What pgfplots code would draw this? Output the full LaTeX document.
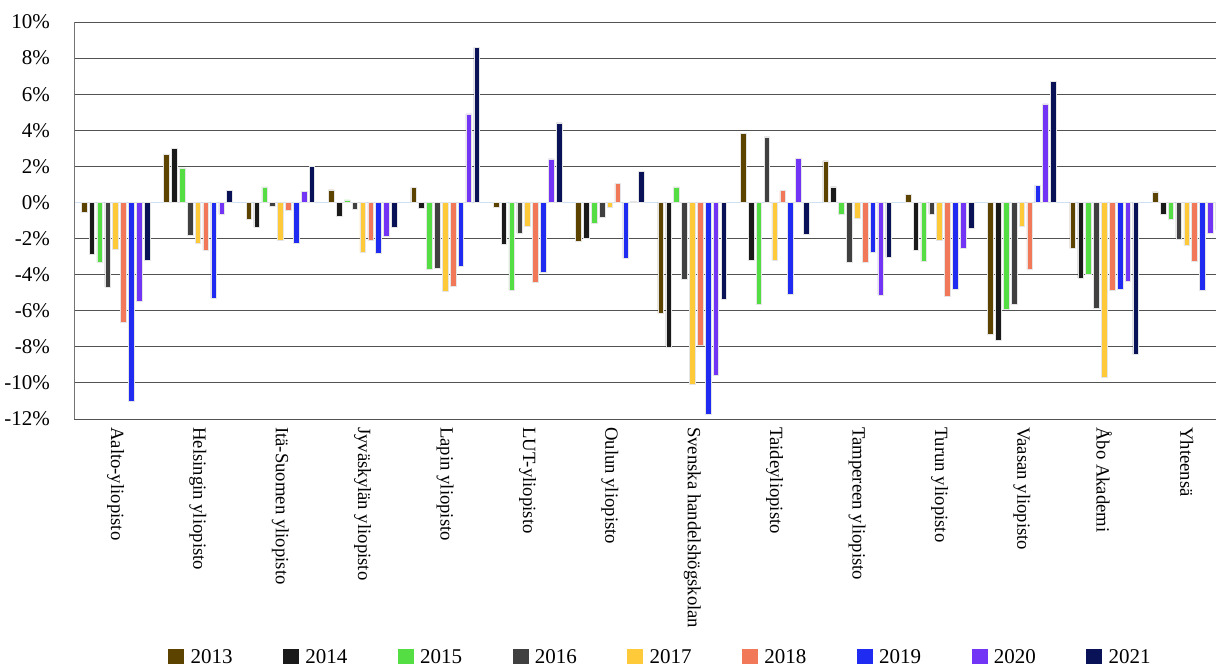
\documentclass[border=0pt]{standalone}
\usepackage{fontspec}
\setmainfont{Liberation Serif}
\usepackage{pgfplots}
\pgfplotsset{compat=1.18}
\usepackage{pgfplotstable}

\definecolor{c13}{HTML}{5C4300}
\definecolor{c14}{HTML}{1A1A1A}
\definecolor{c15}{HTML}{55DD44}
\definecolor{c16}{HTML}{404040}
\definecolor{c17}{HTML}{FFCA3A}
\definecolor{c18}{HTML}{F2785A}
\definecolor{c19}{HTML}{1F2BF0}
\definecolor{c20}{HTML}{7335F5}
\definecolor{c21}{HTML}{0A1257}
\definecolor{zeroline}{HTML}{CFE0F2}

\pgfplotstableread{
g y13 y14 y15 y16 y17 y18 y19 y20 y21
0 -0.55 -2.87 -3.33 -4.68 -2.60 -6.63 -11.00 -5.50 -3.18
1 2.65 3.00 1.91 -1.81 -2.26 -2.66 -5.31 -0.65 0.67
2 -0.93 -1.37 0.87 -0.22 -2.09 -0.43 -2.28 0.61 2.00
3 0.70 -0.74 0.15 -0.35 -2.78 -2.11 -2.81 -1.90 -1.39
4 0.83 -0.31 -3.72 -3.67 -4.90 -4.67 -3.54 4.91 8.59
5 -0.24 -2.33 -4.85 -1.70 -1.33 -4.44 -3.87 2.41 4.41
6 -2.17 -2.00 -1.17 -0.81 -0.29 1.04 -3.09 0.05 1.72
7 -6.15 -8.02 0.87 -4.26 -10.09 -7.93 -11.74 -9.57 -5.37
8 3.83 -3.18 -5.65 3.63 -3.18 0.65 -5.11 2.43 -1.74
9 2.30 0.87 -0.65 -3.29 -0.90 -3.31 -2.78 -5.13 -3.04
10 0.45 -2.65 -3.28 -0.63 -2.09 -5.17 -4.81 -2.54 -1.42
11 -7.33 -7.65 -5.90 -5.63 -1.33 -3.72 0.96 5.46 6.70
12 -2.54 -4.18 -3.98 -5.89 -9.70 -4.85 -4.80 -4.39 -8.42
13 0.58 -0.63 -0.94 -2.02 -2.39 -3.24 -4.87 -1.72 -1.50
}\data

\pgfplotsset{
  mybar/.style={ybar, bar width=0.068, bar shift=0pt, fill=#1, draw=black!10, line width=0.5pt},
}

\begin{document}
\begin{tikzpicture}
\begin{axis}[
  at={(74pt,-419pt)}, anchor=south west,
  scale only axis, width=1142pt, height=397pt,
  xmin=-0.504, xmax=13.356,
  ymin=-12, ymax=10,
  axis line style={draw=none},
  major tick length=0pt,
  ytick={-12,-10,-8,-6,-4,-2,2,4,6,8,10},
  extra y ticks={0},
  extra y tick style={grid style={color=zeroline, line width=1pt}},
  ymajorgrids,
  grid style={color=black!68, line width=0.9pt},
  /pgf/number format/assume math mode=true,
  yticklabel={\pgfmathprintnumber{\tick}\%},
  yticklabel style={font=\fontsize{21}{24}\selectfont, inner sep=0pt, anchor=east, xshift=-24pt},
  xtick={0,...,13},
  xticklabels={Aalto-yliopisto, Helsingin yliopisto, Itä-Suomen yliopisto, Jyväskylän yliopisto, Lapin yliopisto, LUT-yliopisto, Oulun yliopisto, Svenska handelshögskolan, Taideyliopisto, Tampereen yliopisto, Turun yliopisto, Vaasan yliopisto, Åbo Akademi, Yhteensä},
  xticklabel style={font=\fontsize{18.7}{21}\selectfont, rotate=-90, anchor=west, inner sep=0pt, xshift=8pt},
  legend columns=9,
  legend style={at={(0.5135,-0.5995)}, anchor=center, draw=none, fill=none,
    font=\fontsize{21}{24}\selectfont, inner sep=0pt,
    /tikz/every even column/.append style={column sep=48.5pt}},
  legend image code/.code={\fill[#1, draw=none] (0pt,-7pt) rectangle (16pt,8pt); \path (20pt,0pt);},
]
\addplot[mybar=c13] table[x expr=\thisrow{g}-4*0.0956, y=y13] {\data};
\addplot[mybar=c14] table[x expr=\thisrow{g}-3*0.0956, y=y14] {\data};
\addplot[mybar=c15] table[x expr=\thisrow{g}-2*0.0956, y=y15] {\data};
\addplot[mybar=c16] table[x expr=\thisrow{g}-1*0.0956, y=y16] {\data};
\addplot[mybar=c17] table[x expr=\thisrow{g}, y=y17] {\data};
\addplot[mybar=c18] table[x expr=\thisrow{g}+1*0.0956, y=y18] {\data};
\addplot[mybar=c19] table[x expr=\thisrow{g}+2*0.0956, y=y19] {\data};
\addplot[mybar=c20] table[x expr=\thisrow{g}+3*0.0956, y=y20] {\data};
\addplot[mybar=c21] table[x expr=\thisrow{g}+4*0.0956, y=y21] {\data};
\legend{2013,2014,2015,2016,2017,2018,2019,2020,2021}
\draw[black!55, line width=0.9pt] (rel axis cs:0,0) -- (rel axis cs:0,1);
\end{axis}
\pgfresetboundingbox
\useasboundingbox (0,0) rectangle (1216pt,-666pt);
\end{tikzpicture}
\end{document}
